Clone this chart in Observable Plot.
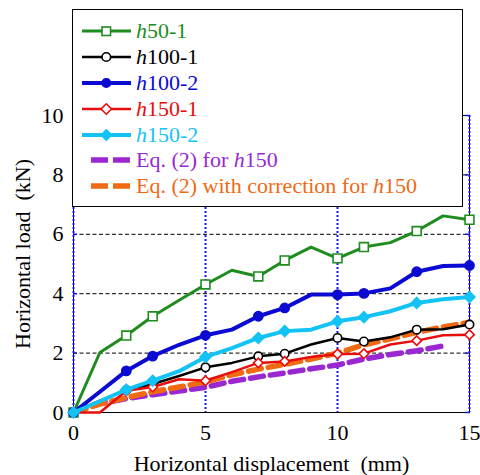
<!DOCTYPE html>
<html><head><meta charset="utf-8">
<script src="https://cdn.jsdelivr.net/npm/d3@7"></script>
<script src="https://cdn.jsdelivr.net/npm/@observablehq/plot@0.6"></script>
<style>
body{margin:0;background:#fff;}
#wrap{position:relative;width:480px;height:475px;}
#legend{position:absolute;left:72px;top:9px;width:389px;height:196px;border:1.5px solid #000;background:#fff;}
.row{position:absolute;left:0;height:26px;width:389px;}
.row svg{position:absolute;left:8px;top:0;}
.row span{position:absolute;left:63px;top:0;line-height:26px;font-size:22px;white-space:nowrap;}
</style></head>
<body>
<div id="wrap" style="font-family:'Liberation Serif', Tinos, 'Times New Roman', serif"></div>
<script>
// ---- data ----
const disp = [0,1,2,3,4,5,6,7,8,9,10,11,12,13,14,15];
const h50_1  = [0, 2.02, 2.59, 3.24, 3.78, 4.31, 4.79, 4.58, 5.12, 5.57, 5.19, 5.57, 5.72, 6.11, 6.62, 6.49];
const h100_1 = [0, 0.40, 0.76, 0.96, 1.23, 1.52, 1.67, 1.89, 1.98, 2.29, 2.51, 2.39, 2.53, 2.79, 2.80, 2.96];
const h100_2 = [0, 0.70, 1.40, 1.90, 2.28, 2.60, 2.79, 3.24, 3.52, 3.97, 3.97, 4.01, 4.18, 4.74, 4.93, 4.95];
const h150_1 = [0, 0.00, 0.73, 0.86, 1.12, 1.07, 1.36, 1.67, 1.72, 1.87, 1.97, 1.98, 2.29, 2.42, 2.60, 2.62];
const h150_2 = [0, 0.38, 0.77, 1.07, 1.39, 1.87, 2.17, 2.51, 2.74, 2.79, 3.07, 3.21, 3.41, 3.69, 3.81, 3.89];
const eq2    = [0.08, 0.30, 0.47, 0.60, 0.72, 0.85, 1.05, 1.20, 1.33, 1.47, 1.60, 1.80, 1.95, 2.08, 2.24, null];
const eq2c   = [0, 0.28, 0.50, 0.70, 0.86, 1.03, 1.27, 1.46, 1.62, 1.80, 2.00, 2.28, 2.48, 2.70, 2.88, 3.04];
const markerX = [0,2,3,5,7,8,10,11,13,15];
const xTicks = [0,5,10,15];
const yTicks = [0,2,4,6,8,10];
const names = ["h50-1","h100-1","h100-2","h150-1","h150-2","Eq. (2) for h150","Eq. (2) with correction for h150"];

const C = {green:"#1e8c1e", black:"#000000", blue:"#0a0ad2", red:"#e80c0c", cyan:"#14c3f5", purple:"#9a28d2", orange:"#f06a14"};
const FONT = "'Liberation Serif', Tinos, 'Times New Roman', serif";

const rows = ys => ys.map((y,i)=>({x:disp[i], y})).filter(d=>d.y!=null);
const mk = new Set(markerX);
const marks = ys => rows(ys).filter(d=>mk.has(d.x));

const exp = [
  {ys:h50_1,  c:C.green, w:3,   sym:"square",   r:5,   fill:"#fff"},
  {ys:h100_1, c:C.black, w:2.5, sym:"circle",   r:4.2, fill:"#fff"},
  {ys:h100_2, c:C.blue,  w:4,   sym:"circle",   r:4.6, fill:C.blue},
  {ys:h150_1, c:C.red,   w:2.5, sym:"diamond2", r:4.3, fill:"#fff"},
  {ys:h150_2, c:C.cyan,  w:4,   sym:"diamond2", r:4.9, fill:C.cyan}
];

const m = [
  Plot.frame({stroke:"#000", strokeWidth:1}),
  Plot.ruleY(yTicks, {stroke:"#000", strokeDasharray:"4,2.5", strokeWidth:1}),
  Plot.ruleX(xTicks, {stroke:"#1818e0", strokeDasharray:"2,2", strokeWidth:2}),
  Plot.axisX(xTicks, {tickSize:0, tickPadding:12, label:null, fontSize:22}),
  Plot.axisY(yTicks, {tickSize:0, tickPadding:10, label:null, fontSize:22}),
  Plot.axisY(yTicks, {anchor:"right", tickSize:-5, tickFormat:()=>"", label:null, stroke:"#1818e0", strokeWidth:1.5}),
  Plot.axisY(yTicks, {anchor:"left", tickSize:-4, tickFormat:()=>"", label:null, stroke:"#1818e0", strokeWidth:1.5}),
  Plot.text(["Horizontal displacement\u00a0 (mm)"], {frameAnchor:"bottom", dy:51, lineAnchor:"middle", textAnchor:"middle", fontSize:22, fill:"#000"}),
  Plot.text(["Horizontal load\u00a0 (kN)"], {frameAnchor:"left", dx:-51, dy:-10, rotate:-90, textAnchor:"middle", lineAnchor:"middle", fontSize:22, fill:"#000"}),
  Plot.line(rows(eq2),  {x:"x", y:"y", stroke:C.purple, strokeWidth:5.5, strokeDasharray:"13,7"}),
  Plot.line(rows(eq2c), {x:"x", y:"y", stroke:C.orange, strokeWidth:5.5, strokeDasharray:"13,7"})
];
for (const s of exp) {
  m.push(Plot.line(rows(s.ys), {x:"x", y:"y", stroke:s.c, strokeWidth:s.w}));
  m.push(Plot.dot(marks(s.ys), {x:"x", y:"y", symbol:s.sym, r:s.r, stroke:s.c, fill:s.fill, strokeWidth:1.6}));
}

const chart = Plot.plot({
  width:480, height:475,
  marginLeft:73, marginRight:11, marginTop:115, marginBottom:63,
  x:{domain:[0,15]}, y:{domain:[0,10]},
  style:{fontFamily:FONT, fontSize:"22px", background:"#fff", color:"#000"},
  marks:m
});
chart.setAttribute("font-family", FONT);
const wrap = document.getElementById("wrap");
wrap.appendChild(chart);

// ---- legend ----
const lg = document.createElement("div");
lg.id = "legend";
wrap.appendChild(lg);
const legendSpec = [
  {c:C.green, w:3, sym:"square", fill:"#fff"},
  {c:C.black, w:2.5, sym:"circle", fill:"#fff"},
  {c:C.blue, w:4, sym:"circle", fill:C.blue},
  {c:C.red, w:2.5, sym:"diamond", fill:"#fff"},
  {c:C.cyan, w:4, sym:"diamond", fill:C.cyan},
  {c:C.purple, dash:true},
  {c:C.orange, dash:true}
];
const NS = "http://www.w3.org/2000/svg";
names.forEach((name,i)=>{
  const s = legendSpec[i];
  const row = document.createElement("div");
  row.className = "row";
  row.style.top = (7.5 + 26*i - (i>=5 ? 0.5 : 0)) + "px";
  const svg = document.createElementNS(NS,"svg");
  svg.setAttribute("width",52); svg.setAttribute("height",26);
  if (s.dash) {
    const l = document.createElementNS(NS,"line");
    l.setAttribute("x1",10); l.setAttribute("x2",49); l.setAttribute("y1",13); l.setAttribute("y2",13);
    l.setAttribute("stroke",s.c); l.setAttribute("stroke-width",5.5); l.setAttribute("stroke-dasharray","17,5");
    svg.appendChild(l);
  } else {
    const l = document.createElementNS(NS,"line");
    l.setAttribute("x1",1); l.setAttribute("x2",50); l.setAttribute("y1",13); l.setAttribute("y2",13);
    l.setAttribute("stroke",s.c); l.setAttribute("stroke-width",s.w);
    svg.appendChild(l);
    let e;
    if (s.sym==="square") { e=document.createElementNS(NS,"rect"); e.setAttribute("x",21); e.setAttribute("y",9); e.setAttribute("width",8.5); e.setAttribute("height",8.5); }
    else if (s.sym==="circle") { e=document.createElementNS(NS,"circle"); e.setAttribute("cx",25.3); e.setAttribute("cy",13); e.setAttribute("r",4.3); }
    else { e=document.createElementNS(NS,"path"); e.setAttribute("d","M25.3,7.8L30.5,13L25.3,18.2L20.1,13Z"); }
    e.setAttribute("fill",s.fill); e.setAttribute("stroke",s.c); e.setAttribute("stroke-width",1.6);
    svg.appendChild(e);
  }
  row.appendChild(svg);
  const sp = document.createElement("span");
  sp.style.color = s.c;
  sp.style.fontFamily = FONT;
  sp.innerHTML = name.replace(/h(\d)/, "<i>h</i>$1");
  row.appendChild(sp);
  lg.appendChild(row);
});
</script>
</body></html>
